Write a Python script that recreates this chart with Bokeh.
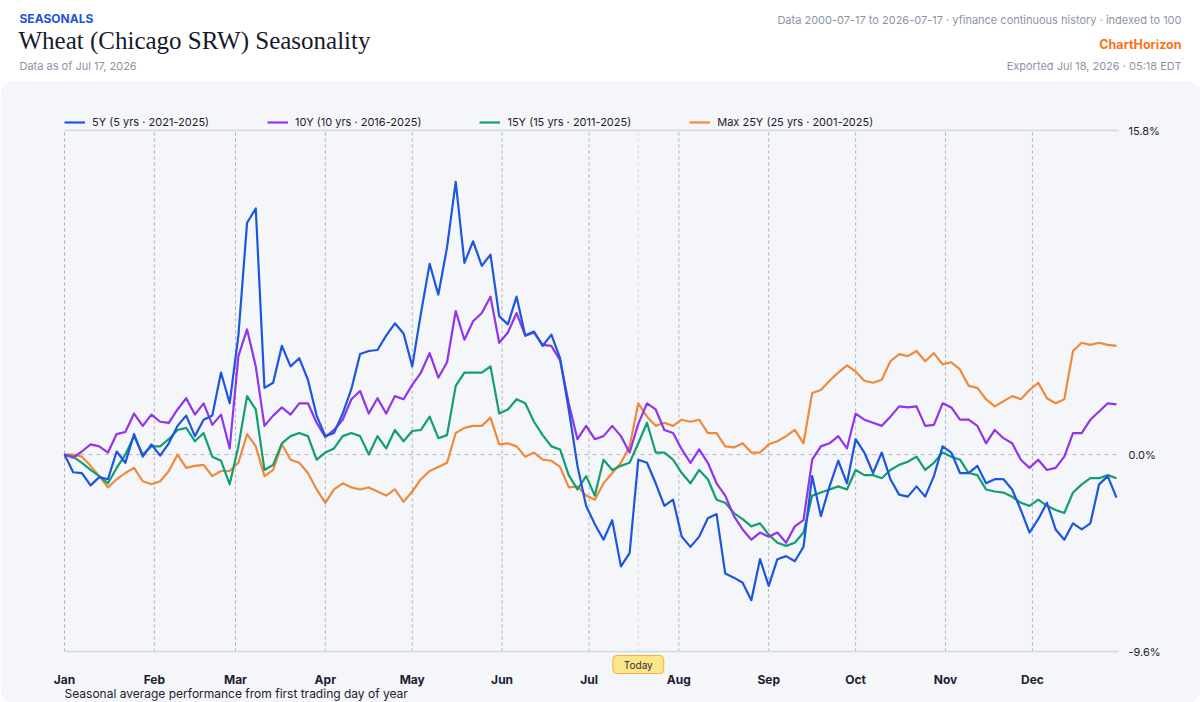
from bokeh.plotting import figure
from bokeh.models import Range1d, Label, Legend, LegendItem, BoxAnnotation
from bokeh.embed import file_html
from bokeh.resources import INLINE

# ---------------- data ----------------
days = list(range(0, 364, 3))  # day of year (0 = Jan 1), one reading every 3 days

s5 = [0, -0.86, -0.9, -1.5, -1.1, -1.2, 0.15, -0.4, 1.0, -0.1,
      0.5, -0.05, 0.55, 1.4, 1.9, 0.9, 1.7, 1.9, 4.0, 2.5,
      5.8, 11.3, 12.0, 3.25, 3.5, 5.3, 4.3, 4.7, 3.65, 1.9,
      0.9, 1.05, 2.0, 3.2, 4.9, 5.05, 5.1, 5.8, 6.4, 5.9,
      4.3, 6.9, 9.3, 7.8, 10.1, 13.3, 9.35, 10.4, 9.2, 9.75,
      6.75, 6.35, 7.7, 5.8, 6.0, 5.3, 5.85, 4.7, 2.2, -0.55,
      -2.5, -3.4, -4.15, -3.2, -5.45, -4.8, -0.25, -0.4, -1.4, -2.5,
      -2.2, -4.0, -4.5, -4.0, -3.1, -2.9, -5.8, -6.0, -6.25, -7.1,
      -5.1, -6.4, -5.1, -4.95, -5.2, -4.5, -1.05, -3.0, -1.55, -0.3,
      -1.4, 0.75, 0.1, -0.9, 0.1, -1.2, -1.95, -2.05, -1.55, -2.05,
      -1.05, 0.4, 0.1, -0.9, -0.9, -0.55, -1.4, -1.2, -1.2, -1.7,
      -2.7, -3.8, -3.15, -2.35, -3.65, -4.15, -3.35, -3.65, -3.35, -1.45,
      -1.05, -2.1]

s10 = [0, -0.15, 0.15, 0.5, 0.4, 0.1, 1.0, 1.1, 2.0, 1.4,
       1.95, 1.6, 1.55, 2.2, 2.75, 1.95, 2.5, 1.45, 1.95, 0.3,
       4.8, 6.1, 4.3, 1.4, 1.9, 2.3, 1.95, 2.5, 2.5, 1.55,
       0.85, 1.2, 1.7, 2.7, 3.1, 2.0, 2.75, 2.0, 2.85, 2.7,
       3.4, 4.0, 4.95, 3.75, 4.5, 7.0, 5.6, 6.5, 6.9, 7.7,
       5.45, 5.95, 6.9, 5.8, 5.95, 5.35, 5.3, 4.6, 2.5, 0.75,
       1.4, 0.75, 0.9, 1.4, 0.9, 0.1, 1.5, 2.5, 2.2, 1.2,
       1.05, 0.25, -0.4, 0.25, -0.4, -1.4, -2.0, -3.0, -3.65, -4.15,
       -3.8, -4.0, -3.8, -4.3, -3.5, -3.2, -0.25, 0.4, 0.55, 0.9,
       0.3, 2.0, 1.7, 1.55, 1.4, 1.85, 2.35, 2.3, 2.35, 1.4,
       1.45, 2.5, 2.3, 1.7, 1.7, 1.4, 0.55, 1.2, 0.8, 0.55,
       -0.25, -0.65, -0.25, -0.75, -0.65, -0.1, 1.05, 1.05, 1.7, 2.1,
       2.5, 2.45]

s15 = [0, -0.1, -0.4, -0.75, -1.05, -1.4, -0.65, 0, 0.9, 0,
       0.4, 0.4, 0.75, 1.2, 1.3, 0.65, 1.05, -0.1, -0.3, -1.45,
       0.4, 2.85, 2.2, -0.75, -0.5, 0.55, 0.9, 1.05, 0.9, -0.25,
       0.1, 0.3, 0.9, 1.05, 0.9, 0, 0.9, 0.3, 1.2, 0.65,
       1.15, 1.2, 1.85, 0.8, 0.95, 3.35, 4.0, 4.0, 4.0, 4.3,
       2.0, 2.2, 2.7, 2.5, 1.6, 0.95, 0.4, 0.25, -1.0, -1.7,
       -1.05, -2.0, -0.25, -0.75, -0.55, -0.4, 0.55, 1.55, 0.1, 0.1,
       -0.25, -0.9, -1.4, -0.75, -1.2, -2.2, -2.35, -2.85, -3.15, -3.5,
       -3.35, -3.9, -4.3, -4.45, -4.3, -3.8, -2.0, -1.85, -1.7, -1.55,
       -1.7, -0.75, -1.0, -1.0, -1.15, -0.75, -0.5, -0.35, -0.1, -0.75,
       -0.4, 0.1, -0.1, -0.25, -0.9, -1.0, -1.7, -1.8, -1.85, -2.05,
       -2.35, -2.5, -2.2, -2.5, -2.7, -2.85, -1.85, -1.45, -1.15, -1.15,
       -1.0, -1.15]

s25 = [0, 0, -0.1, -0.55, -1.05, -1.6, -1.2, -0.9, -0.65, -1.3,
       -1.45, -1.3, -0.8, 0, -0.65, -0.55, -0.5, -1.05, -0.8, -0.8,
       -0.4, 1.0, 0.4, -1.05, -0.75, 0.5, -0.25, -0.4, -0.9, -1.7,
       -2.35, -1.7, -1.4, -1.6, -1.7, -1.6, -1.8, -2.0, -1.7, -2.3,
       -1.8, -1.2, -0.8, -0.6, -0.4, 1.05, 1.3, 1.4, 1.4, 1.8,
       0.5, 0.55, 0.4, -0.1, 0.1, -0.25, -0.3, -0.6, -1.6, -1.55,
       -2.0, -2.2, -1.4, -0.9, -0.4, 0.4, 2.5, 1.85, 1.4, 1.55,
       1.4, 1.7, 1.6, 1.7, 1.05, 1.05, 0.4, 0.35, 0.55, 0.1,
       0.1, 0.5, 0.65, 0.9, 1.2, 0.55, 3.0, 3.15, 3.6, 4.0,
       4.35, 4.05, 3.6, 3.5, 3.65, 4.55, 4.9, 4.8, 5.05, 4.55,
       4.95, 4.4, 4.5, 4.15, 3.35, 3.25, 2.7, 2.35, 2.6, 2.85,
       2.7, 3.15, 3.5, 2.75, 2.5, 2.7, 5.05, 5.45, 5.35, 5.45,
       5.35, 5.3]

series_labels = ["5Y (5 yrs \u00b7 2021-2025)", "10Y (10 yrs \u00b7 2016-2025)",
                 "15Y (15 yrs \u00b7 2011-2025)", "Max 25Y (25 yrs \u00b7 2001-2025)"]
series_colors = ["#1d55e0", "#9234ea", "#119e73", "#ef8a3c"]

month_days = [0, 31, 59, 90, 120, 151, 181, 212, 243, 273, 304, 334]
month_names = ["Jan", "Feb", "Mar", "Apr", "May", "Jun", "Jul", "Aug", "Sep", "Oct", "Nov", "Dec"]
y_ticks = [-9.6, 0.0, 15.8]
year_end = 363.7
today_day = 198

SANS = "Inter"
PANEL = "#f5f6fa"
GRAY = "#8b95a5"
INK = "#1b2130"

W, H = 1200, 702
PLOT_L, PLOT_R, PLOT_T, PLOT_B = 64, 1118, 130, 651   # plot box in page pixels

# ranges chosen so that the whole page is the frame and the data box sits at PLOT_*
xs = (PLOT_R - PLOT_L) / year_end
ys = (PLOT_B - PLOT_T) / (y_ticks[-1] - y_ticks[0])
x_range = Range1d(-PLOT_L / xs, year_end + (W - PLOT_R) / xs)
y_range = Range1d(y_ticks[0] - (H - PLOT_B) / ys, y_ticks[-1] + PLOT_T / ys)

p = figure(width=W, height=H, x_range=x_range, y_range=y_range,
           toolbar_location=None, output_backend="svg", min_border=0,
           x_axis_location=None, y_axis_location=None, outline_line_color=None,
           background_fill_color="white", border_fill_color="white")
p.grid.visible = False

# grey panel
p.add_layout(BoxAnnotation(left=x_range.start, right=x_range.end, bottom=y_range.start,
                           top=y_ticks[-1] + (PLOT_T - 81) / ys,
                           fill_color=PANEL, fill_alpha=1, line_color=None,
                           border_radius=12, level="underlay"))

def sy(py):  # page pixel (from top) -> screen units (from bottom)
    return H - py

def lab(x, y, text, size, color, style="normal", font=SANS, align="left",
        xu="screen", yu="screen", **kw):
    p.add_layout(Label(x=x, y=y, x_units=xu, y_units=yu, text=text, text_font=font,
                       text_font_size=size, text_color=color, text_font_style=style,
                       text_align=align, text_baseline="middle", **kw))

# header
lab(19, sy(18), "SEASONALS", "12px", "#1d55e0", "bold")
lab(18, sy(40), "Wheat (Chicago SRW) Seasonality", "25px", "#141a2b", font="Liberation Serif")
lab(19, sy(65), "Data as of Jul 17, 2026", "11px", GRAY)
lab(1181, sy(19), "Data 2000-07-17 to 2026-07-17 \u00b7 yfinance continuous history \u00b7 indexed to 100",
    "11px", GRAY, align="right")
lab(1181, sy(44), "ChartHorizon", "12.5px", "#f97316", "bold", align="right")
lab(1181, sy(65), "Exported Jul 18, 2026 \u00b7 05:18 EDT", "11px", GRAY, align="right")

# grid
n = len(month_days)
p.segment(x0=month_days, y0=[y_ticks[0]] * n, x1=month_days, y1=[y_ticks[-1]] * n,
          line_color="#a9b0bb", line_width=1, line_dash="3 3")
p.segment(x0=[today_day], y0=[y_ticks[0]], x1=[today_day], y1=[y_ticks[-1]],
          line_color="#d3d7df", line_width=1, line_dash="3 3")
p.segment(x0=[0], y0=[0], x1=[year_end], y1=[0], line_color="#b3b9c3", line_width=1, line_dash="4 4")
p.segment(x0=[0, 0], y0=[y_ticks[0], y_ticks[-1]], x1=[year_end, year_end],
          y1=[y_ticks[0], y_ticks[-1]], line_color="#d3d8e0", line_width=1.5)

# series
renderers = []
for s, c in zip([s25, s15, s10, s5], series_colors[::-1]):
    renderers.append(p.line(days, s, line_color=c, line_width=2.2, line_join="round"))
renderers = renderers[::-1]

# y labels (right)
for t in y_ticks:
    lab(PLOT_R + 10, t, f"{t:.1f}%", "11px", INK, yu="data")

# month labels
for d, m in zip(month_days, month_names):
    lab(d, sy(679), m, "12px", INK, "bold", align="center", xu="data")

# today badge
lab(today_day, sy(664), "Today", "10px", "#2a2f3a", align="center", xu="data",
    background_fill_color="#fde68a", border_line_color="#f3b23a", border_line_width=1,
    padding=(11, 3), border_radius=4)

# footnote
lab(PLOT_L, sy(693), "Seasonal average performance from first trading day of year", "12px", INK)

legend = Legend(items=[LegendItem(label=l, renderers=[r]) for l, r in zip(series_labels, renderers)],
                orientation="horizontal", location=(PLOT_L, sy(122) - 7),
                glyph_width=21, glyph_height=14, label_standoff=7, label_width=0, spacing=58,
                padding=0, margin=0, background_fill_alpha=0, border_line_alpha=0,
                label_text_font=SANS, label_text_font_size="11px", label_text_color=INK)
p.add_layout(legend)

open("out.html", "w").write(file_html(p, INLINE))
